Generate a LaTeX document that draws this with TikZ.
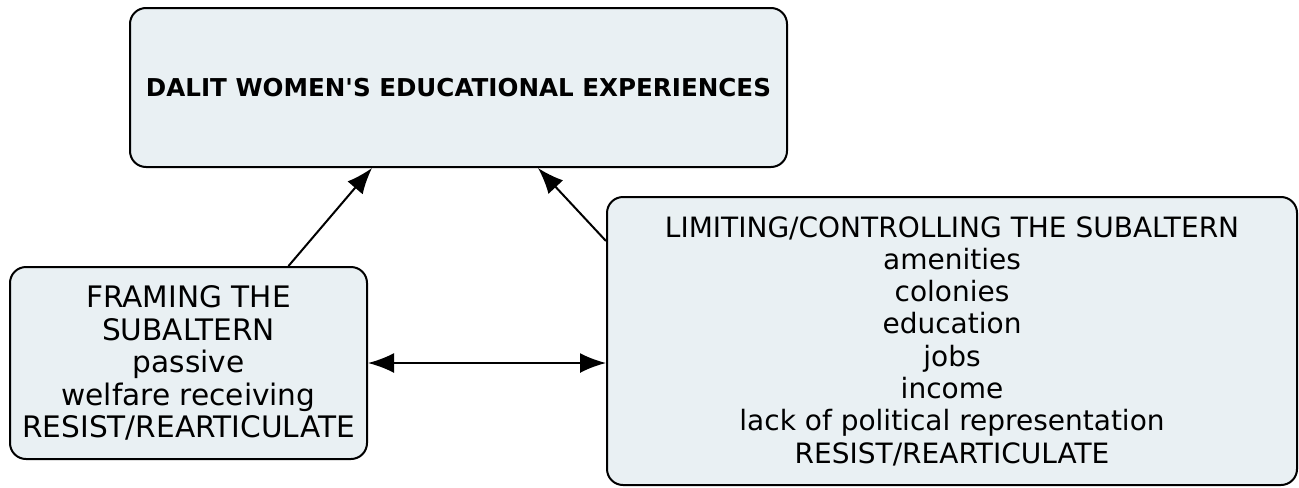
\documentclass[tikz,border=0pt]{standalone}
\usepackage{fontspec}
\setmainfont{DejaVu Sans}[Ligatures=TeXOff]
\usepackage{tikz}
\usetikzlibrary{arrows.meta,positioning,calc}
\definecolor{boxfill}{RGB}{233,240,243}

\begin{document}
\begin{tikzpicture}[x=0.5pt, y=-0.5pt,
        conceptbox/.style={rectangle, rounded corners=8pt, draw=black, fill=boxfill, line width=1pt,
            align=center, inner sep=0pt, font=\fontsize{14}{16.15}\selectfont},
        >={Latex[length=13pt, width=10pt]}]
        \useasboundingbox (0,0) rectangle (1299,487);
        \node [conceptbox, minimum width=328.5pt, minimum height=79.5pt,
               font=\bfseries\fontsize{12.3}{16.15}\selectfont] at (458.5, 87.5) (exp)
            {DALIT WOMEN'S EDUCATIONAL EXPERIENCES};
        \node [conceptbox, minimum width=178.5pt, minimum height=96pt,
               font=\fontsize{14.8}{16.2}\selectfont] at (188.5, 363) (framing)
            {FRAMING THE\\ SUBALTERN\\ passive\\ welfare receiving\\ RESIST/REARTICULATE};
        \node [conceptbox, minimum width=345pt, minimum height=144pt] at (952, 341) (limiting)
            {LIMITING/CONTROLLING THE SUBALTERN\\ amenities\\ colonies\\ education\\ jobs\\ income\\
             lack of political representation\\ RESIST/REARTICULATE};
        \draw[->, line width=1pt] ([xshift=50pt]framing.north) -- ([xshift=-43.25pt]exp.south);
        \draw[->, line width=1pt] ([yshift=50pt]limiting.west) -- ([xshift=39.75pt]exp.south);
        \draw[<->, line width=1pt] (framing.east) -- (framing.east -| limiting.west);
    \end{tikzpicture}
\end{document}
